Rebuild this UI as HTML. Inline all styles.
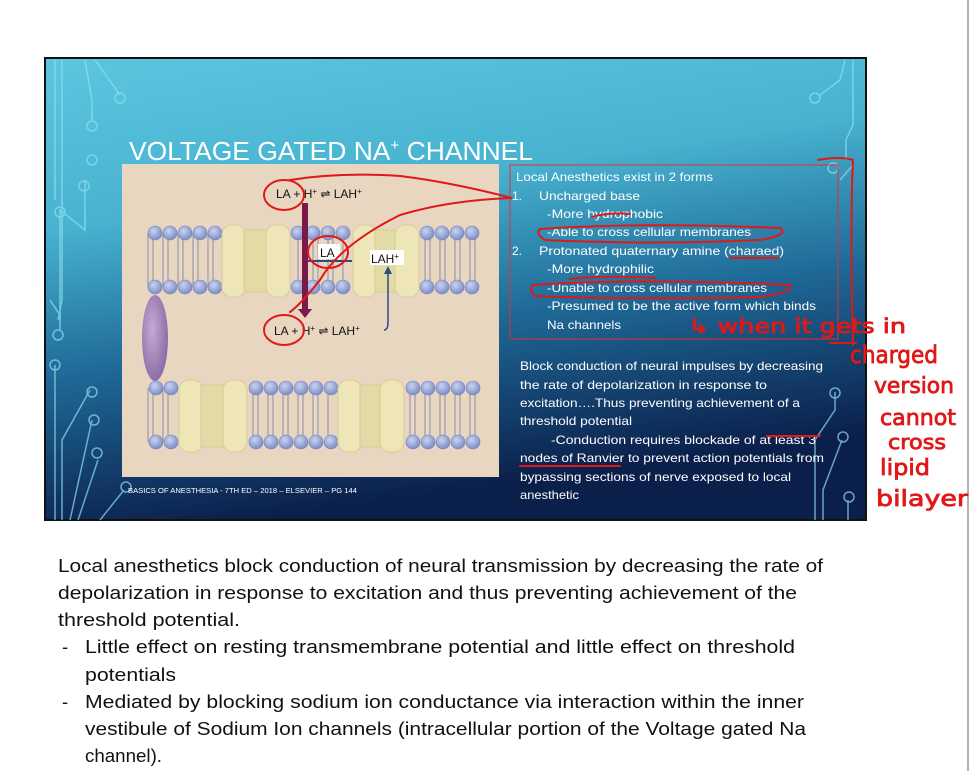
<!DOCTYPE html>
<html><head><meta charset="utf-8"><style>
html,body{margin:0;padding:0;background:#fff;width:971px;height:771px;overflow:hidden}
svg{display:block}
</style></head><body>
<svg width="971" height="771" viewBox="0 0 971 771" xmlns="http://www.w3.org/2000/svg" font-family="Liberation Sans, sans-serif">
<defs>
<linearGradient id="bg" x1="0" y1="0" x2="0.25" y2="1">
<stop offset="0" stop-color="#5cc6df"/>
<stop offset="0.35" stop-color="#48b3d0"/>
<stop offset="0.65" stop-color="#1f6a98"/>
<stop offset="1" stop-color="#0b1f4b"/>
</linearGradient>
<radialGradient id="pe" cx="0.4" cy="0.4" r="0.6"><stop offset="0" stop-color="#c7a9d6"/><stop offset="1" stop-color="#8e6ea6"/></radialGradient>
<radialGradient id="hd" cx="0.4" cy="0.35" r="0.6"><stop offset="0" stop-color="#c9d3f0"/><stop offset="1" stop-color="#8393c8"/></radialGradient>
</defs>
<line x1="968" y1="0" x2="968" y2="771" stroke="#999" stroke-width="1.5"/>
<rect x="45" y="58" width="821" height="462" fill="url(#bg)" stroke="#111" stroke-width="2"/>
<g stroke="#8fe0f0" stroke-width="1.5" fill="none" opacity="0.7">
<path d="M55 60 V200 M62 60 V300 L58 320 M85 60 L92 100 V120 M95 60 L120 95 M60 320 V210 L85 230 V180"/>
<circle cx="120" cy="98" r="5"/><circle cx="92" cy="126" r="5"/><circle cx="92" cy="160" r="5"/><circle cx="84" cy="186" r="5"/><circle cx="60" cy="212" r="5"/>
<path d="M50 300 L60 315 V330 M55 365 V520 M62 520 V440 L90 390 M70 520 L92 420 M78 520 L98 460 M100 520 L124 490"/>
<circle cx="58" cy="335" r="5"/><circle cx="55" cy="365" r="5"/><circle cx="92" cy="392" r="5"/><circle cx="94" cy="420" r="5"/><circle cx="97" cy="453" r="5"/><circle cx="126" cy="487" r="5"/>
<path d="M845 60 L840 80 L820 95 M846 160 V140 L853 125 V60 M840 180 L853 165"/><circle cx="815" cy="98" r="5"/><circle cx="833" cy="168" r="5"/>
<path d="M835 392 V410 L815 440 V520 M842 440 L823 490 V520 M848 500 V520"/><circle cx="835" cy="393" r="5"/><circle cx="843" cy="437" r="5"/><circle cx="849" cy="497" r="5"/>
</g>
<text x="129" y="160" fill="#fff" font-size="26" textLength="404" lengthAdjust="spacingAndGlyphs">VOLTAGE GATED NA<tspan dy="-10" font-size="15">+</tspan><tspan dy="10"> CHANNEL</tspan></text>
<rect x="122" y="164" width="377" height="313" fill="#e9d6c1"/>
<g>
<g stroke="#8a8fa8" stroke-width="1" fill="none">
<path d="M148 233 V287 M153 233 V287 M163 233 V287 M168 233 V287 M178 233 V287 M183 233 V287 M193 233 V287 M198 233 V287 M208 233 V287 M213 233 V287"/>
<path d="M298 233 V287 M303 233 V287 M313 233 V287 M318 233 V287 M328 233 V287 M333 233 V287 M343 233 V287"/>
<path d="M425 233 V287 M430 233 V287 M440 233 V287 M445 233 V287 M455 233 V287 M460 233 V287 M470 233 V287 M475 233 V287"/>
<path d="M148 388 V442 M153 388 V442 M163 388 V442 M168 388 V442"/>
<path d="M253 388 V442 M258 388 V442 M268 388 V442 M273 388 V442 M283 388 V442 M288 388 V442 M298 388 V442 M303 388 V442 M313 388 V442 M318 388 V442 M328 388 V442"/>
<path d="M410 388 V442 M415 388 V442 M425 388 V442 M430 388 V442 M440 388 V442 M445 388 V442 M455 388 V442 M460 388 V442 M470 388 V442 M475 388 V442"/>
</g>
<g fill="url(#hd)" stroke="#7282b8" stroke-width="0.6">
<circle cx="155" cy="233" r="7"/><circle cx="170" cy="233" r="7"/><circle cx="185" cy="233" r="7"/><circle cx="200" cy="233" r="7"/><circle cx="215" cy="233" r="7"/>
<circle cx="155" cy="287" r="7"/><circle cx="170" cy="287" r="7"/><circle cx="185" cy="287" r="7"/><circle cx="200" cy="287" r="7"/><circle cx="215" cy="287" r="7"/>
<circle cx="298" cy="233" r="7"/><circle cx="313" cy="233" r="7"/><circle cx="328" cy="233" r="7"/><circle cx="343" cy="233" r="7"/>
<circle cx="298" cy="287" r="7"/><circle cx="313" cy="287" r="7"/><circle cx="328" cy="287" r="7"/><circle cx="343" cy="287" r="7"/>
<circle cx="427" cy="233" r="7"/><circle cx="442" cy="233" r="7"/><circle cx="457" cy="233" r="7"/><circle cx="472" cy="233" r="7"/>
<circle cx="427" cy="287" r="7"/><circle cx="442" cy="287" r="7"/><circle cx="457" cy="287" r="7"/><circle cx="472" cy="287" r="7"/>
<circle cx="156" cy="388" r="7"/><circle cx="171" cy="388" r="7"/><circle cx="156" cy="442" r="7"/><circle cx="171" cy="442" r="7"/>
<circle cx="256" cy="388" r="7"/><circle cx="271" cy="388" r="7"/><circle cx="286" cy="388" r="7"/><circle cx="301" cy="388" r="7"/><circle cx="316" cy="388" r="7"/><circle cx="331" cy="388" r="7"/>
<circle cx="256" cy="442" r="7"/><circle cx="271" cy="442" r="7"/><circle cx="286" cy="442" r="7"/><circle cx="301" cy="442" r="7"/><circle cx="316" cy="442" r="7"/><circle cx="331" cy="442" r="7"/>
<circle cx="413" cy="388" r="7"/><circle cx="428" cy="388" r="7"/><circle cx="443" cy="388" r="7"/><circle cx="458" cy="388" r="7"/><circle cx="473" cy="388" r="7"/>
<circle cx="413" cy="442" r="7"/><circle cx="428" cy="442" r="7"/><circle cx="443" cy="442" r="7"/><circle cx="458" cy="442" r="7"/><circle cx="473" cy="442" r="7"/>
</g>
<g fill="#efe6b8" stroke="#d6cc9c" stroke-width="1">
<rect x="222" y="225" width="24" height="72" rx="10"/><rect x="244" y="230" width="24" height="62" fill="#e3dba5"/><rect x="266" y="225" width="24" height="72" rx="10"/>
<rect x="353" y="225" width="24" height="72" rx="10"/><rect x="375" y="230" width="22" height="62" fill="#e3dba5"/><rect x="395" y="225" width="24" height="72" rx="10"/>
<rect x="179" y="380" width="24" height="72" rx="10"/><rect x="201" y="385" width="24" height="62" fill="#e3dba5"/><rect x="223" y="380" width="24" height="72" rx="10"/>
<rect x="338" y="380" width="24" height="72" rx="10"/><rect x="360" y="385" width="22" height="62" fill="#e3dba5"/><rect x="380" y="380" width="24" height="72" rx="10"/>
</g>
</g>
<ellipse cx="155" cy="338" rx="13" ry="43" fill="url(#pe)"/>
<rect x="302" y="203" width="6" height="108" fill="#7a1a4a"/>
<path d="M298 309 L312 309 L305 318 Z" fill="#7a1a4a"/>
<path d="M308 261 H352" stroke="#2c4d80" stroke-width="2" fill="none"/>
<path d="M384 330 Q388 330 388 322 V272" stroke="#2c4d80" stroke-width="1.5" fill="none"/>
<path d="M384 274 L388 266 L392 274 Z" fill="#2c4d80"/>
<rect x="318" y="244" width="22" height="15" fill="#fff"/>
<text x="320" y="257" font-size="12" fill="#111">LA</text>
<rect x="370" y="250" width="34" height="15" fill="#fff"/>
<text x="371" y="263" font-size="12" fill="#111">LAH<tspan font-size="8" dy="-4">+</tspan></text>
<text x="276" y="198" font-size="12" fill="#111">LA + H<tspan font-size="8" dy="-4">+</tspan><tspan dy="4"> ⇌ LAH</tspan><tspan font-size="8" dy="-4">+</tspan></text>
<text x="274" y="335" font-size="12" fill="#111">LA + H<tspan font-size="8" dy="-4">+</tspan><tspan dy="4"> ⇌ LAH</tspan><tspan font-size="8" dy="-4">+</tspan></text>
<text x="128" y="493" font-size="7" fill="#fff" textLength="229" lengthAdjust="spacingAndGlyphs">BASICS OF ANESTHESIA - 7TH ED – 2018 – ELSEVIER – PG 144</text>
<rect x="510" y="165" width="328" height="174" fill="none" stroke="#e03030" stroke-width="1"/>
<g fill="#fff" font-size="12">
<text x="516" y="181" textLength="197" lengthAdjust="spacingAndGlyphs">Local Anesthetics exist in 2 forms</text>
<text x="512" y="200">1.</text><text x="539" y="200" textLength="101" lengthAdjust="spacingAndGlyphs">Uncharged base</text>
<text x="547" y="218" textLength="116" lengthAdjust="spacingAndGlyphs">-More hydrophobic</text>
<text x="547" y="236" textLength="204" lengthAdjust="spacingAndGlyphs">-Able to cross cellular membranes</text>
<text x="512" y="255">2.</text><text x="539" y="255" textLength="245" lengthAdjust="spacingAndGlyphs">Protonated quaternary amine (charaed)</text>
<text x="547" y="273" textLength="107" lengthAdjust="spacingAndGlyphs">-More hydrophilic</text>
<text x="547" y="292" textLength="220" lengthAdjust="spacingAndGlyphs">-Unable to cross cellular membranes</text>
<text x="547" y="310" textLength="269" lengthAdjust="spacingAndGlyphs">-Presumed to be the active form which binds</text>
<text x="547" y="329" textLength="74" lengthAdjust="spacingAndGlyphs">Na channels</text>
<text x="520" y="370" textLength="303" lengthAdjust="spacingAndGlyphs">Block conduction of neural impulses by decreasing</text>
<text x="520" y="389" textLength="247" lengthAdjust="spacingAndGlyphs">the rate of depolarization in response to</text>
<text x="520" y="407" textLength="280" lengthAdjust="spacingAndGlyphs">excitation….Thus preventing achievement of a</text>
<text x="520" y="425" textLength="112" lengthAdjust="spacingAndGlyphs">threshold potential</text>
<text x="551" y="444" textLength="265" lengthAdjust="spacingAndGlyphs">-Conduction requires blockade of at least 3</text>
<text x="520" y="462" textLength="304" lengthAdjust="spacingAndGlyphs">nodes of Ranvier to prevent action potentials from</text>
<text x="520" y="481" textLength="271" lengthAdjust="spacingAndGlyphs">bypassing sections of nerve exposed to local</text>
<text x="520" y="499" textLength="59" lengthAdjust="spacingAndGlyphs">anesthetic</text>
</g>
<g stroke="#e01818" stroke-width="2" fill="none" stroke-linecap="round">
<ellipse cx="284" cy="195" rx="20" ry="15"/>
<ellipse cx="328" cy="252" rx="20" ry="16"/>
<ellipse cx="284" cy="330" rx="20" ry="15"/>
<path d="M290 180 Q340 172 400 176 Q450 182 512 198 Q450 200 400 215 Q340 245 320 280 Q300 305 290 312"/>
<path d="M540 229 Q640 222 780 228 Q790 235 760 240 Q650 245 545 240 Q535 234 540 229"/>
<path d="M592 217 Q610 212 630 214"/>
<path d="M533 285 Q640 278 790 285 Q795 292 760 297 Q640 300 535 296 Q528 290 533 285"/>
<path d="M570 279 Q600 275 655 278"/>
<path d="M730 258 H778"/>
<path d="M818 160 Q840 156 853 160 Q850 220 853 345 M830 343 H856"/>
<path d="M767 436 H820 M520 466 H620"/>
</g>
<g fill="#e01818" stroke="#e01818" stroke-width="0.8" font-family="DejaVu Sans, sans-serif">
<text x="688" y="333" font-size="20" textLength="218" lengthAdjust="spacingAndGlyphs">↳ when it gets in</text>
<text x="850" y="363" font-size="24" textLength="88" lengthAdjust="spacingAndGlyphs">charged</text>
<text x="874" y="393" font-size="22" textLength="80" lengthAdjust="spacingAndGlyphs">version</text>
<text x="880" y="425" font-size="22" textLength="76" lengthAdjust="spacingAndGlyphs">cannot</text>
<text x="888" y="449" font-size="20" textLength="58" lengthAdjust="spacingAndGlyphs">cross</text>
<text x="880" y="475" font-size="22" textLength="50" lengthAdjust="spacingAndGlyphs">lipid</text>
<text x="876" y="506" font-size="22" textLength="92" lengthAdjust="spacingAndGlyphs">bilayer</text>
</g>
<g fill="#111" font-size="18.5">
<text x="58" y="572" textLength="765" lengthAdjust="spacingAndGlyphs">Local anesthetics block conduction of neural transmission by decreasing the rate of</text>
<text x="58" y="599" textLength="739" lengthAdjust="spacingAndGlyphs">depolarization in response to excitation and thus preventing achievement of the</text>
<text x="58" y="626" textLength="182" lengthAdjust="spacingAndGlyphs">threshold potential.</text>
<text x="62" y="653">-</text>
<text x="85" y="653" textLength="710" lengthAdjust="spacingAndGlyphs">Little effect on resting transmembrane potential and little effect on threshold</text>
<text x="85" y="681" textLength="91" lengthAdjust="spacingAndGlyphs">potentials</text>
<text x="62" y="708">-</text>
<text x="85" y="708" textLength="719" lengthAdjust="spacingAndGlyphs">Mediated by blocking sodium ion conductance via interaction within the inner</text>
<text x="85" y="735" textLength="721" lengthAdjust="spacingAndGlyphs">vestibule of Sodium Ion channels (intracellular portion of the Voltage gated Na</text>
<text x="85" y="762" textLength="77" lengthAdjust="spacingAndGlyphs">channel).</text>
</g>
</svg>
</body></html>
